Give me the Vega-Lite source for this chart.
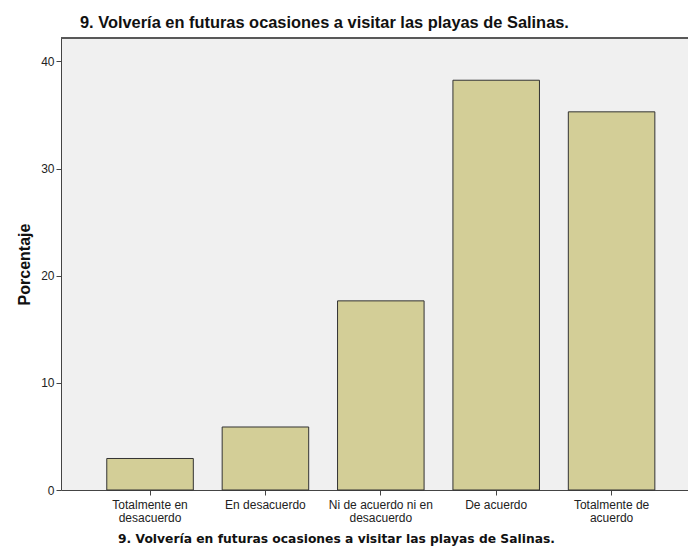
{
  "$schema": "https://vega.github.io/schema/vega-lite/v6.json",
  "autosize": {"type": "none"},
  "width": 627,
  "height": 452,
  "padding": {"left": 61, "top": 38, "right": 0, "bottom": 63},
  "background": "white",
  "title": {
    "text": "9. Volvería en futuras ocasiones a visitar las playas de Salinas.",
    "anchor": "start",
    "frame": "group",
    "dx": 19,
    "offset": 6,
    "font": "Liberation Sans",
    "fontSize": 16.4,
    "fontWeight": "bold",
    "color": "#111"
  },
  "config": {
    "view": {"stroke": null, "fill": "#f0f0f0"},
    "axis": {"grid": false, "domainColor": "#444", "tickColor": "#444", "labelColor": "#222", "titleColor": "#111"}
  },
  "data": {
    "values": [
      {"respuesta": "Totalmente en desacuerdo", "porcentaje": 2.94},
      {"respuesta": "En desacuerdo", "porcentaje": 5.88},
      {"respuesta": "Ni de acuerdo ni en desacuerdo", "porcentaje": 17.65},
      {"respuesta": "De acuerdo", "porcentaje": 38.24},
      {"respuesta": "Totalmente de acuerdo", "porcentaje": 35.29}
    ]
  },
  "layer": [
    {
      "mark": {"type": "bar", "fill": "#d3ce97", "stroke": "#333", "strokeWidth": 1},
      "encoding": {
        "x": {
          "field": "respuesta",
          "type": "nominal",
          "sort": null,
          "scale": {"paddingInner": 0.25, "paddingOuter": 0.342, "align": 0.58},
          "axis": {
            "title": "9. Volvería en futuras ocasiones a visitar las playas de Salinas.",
            "titleFont": "DejaVu Sans",
            "titleFontSize": 12.3,
            "titleFontWeight": "bold",
            "titleX": 275,
            "titleAnchor": "middle",
            "titleAlign": "center",
            "titlePadding": 9,
            "labelAngle": 0,
            "labelFont": "Liberation Sans",
            "labelFontSize": 12,
            "labelLineHeight": 13,
            "labelPadding": 4,
            "tickSize": 5,
            "domainWidth": 1,
            "labelExpr": "datum.label == 'Totalmente en desacuerdo' ? ['Totalmente en','desacuerdo'] : datum.label == 'Ni de acuerdo ni en desacuerdo' ? ['Ni de acuerdo ni en','desacuerdo'] : datum.label == 'Totalmente de acuerdo' ? ['Totalmente de','acuerdo'] : datum.label"
          }
        },
        "y": {
          "field": "porcentaje",
          "type": "quantitative",
          "scale": {"domain": [0, 42.18], "nice": false},
          "axis": {
            "title": "Porcentaje",
            "values": [0, 10, 20, 30, 40],
            "titleFont": "Liberation Sans",
            "titleFontSize": 16,
            "titleFontWeight": "bold",
            "titlePadding": 8,
            "labelFont": "Liberation Sans",
            "labelFontSize": 12,
            "labelPadding": 2,
            "tickSize": 5
          }
        }
      }
    },
    {
      "mark": {"type": "rule", "color": "#555", "strokeWidth": 1},
      "encoding": {"y": {"datum": 42.18}}
    }
  ]
}
